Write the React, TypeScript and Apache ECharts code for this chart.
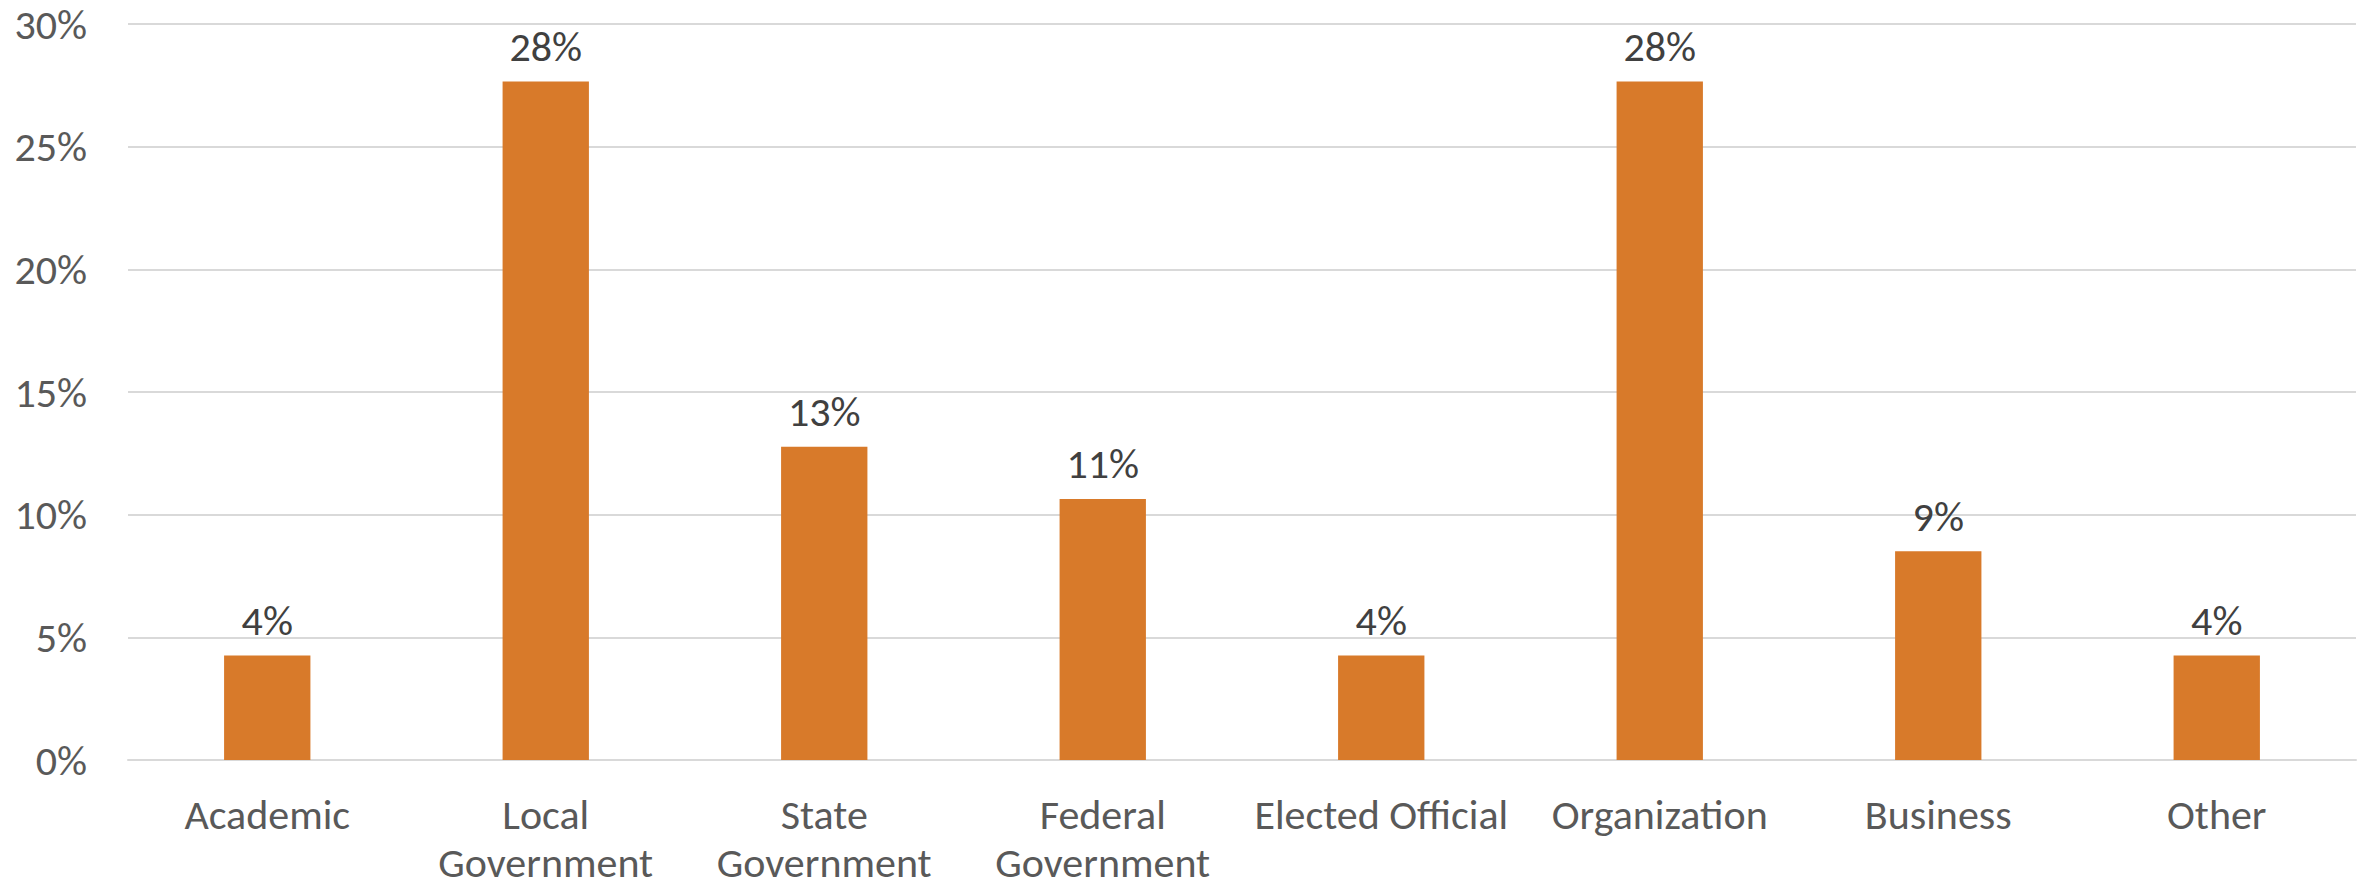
import React, { useEffect, useRef } from "react";
import * as echarts from "echarts";

const categories = [
  "Academic",
  "Local\nGovernment",
  "State\nGovernment",
  "Federal\nGovernment",
  "Elected Official",
  "Organization",
  "Business",
  "Other",
];
const shares = [4.26, 27.66, 12.77, 10.64, 4.26, 27.66, 8.51, 4.26];
const yTicks = { min: 0, max: 30, interval: 5 };

const FONT = "Carlito, Calibri, Roboto, 'Liberation Sans', sans-serif";

export default function App() {
  const ref = useRef<HTMLDivElement>(null);
  useEffect(() => {
    if (!ref.current) return;
    const chart = echarts.init(ref.current, undefined, { renderer: "svg" });
    chart.setOption({
      animation: false,
      backgroundColor: "#ffffff",
      textStyle: { fontFamily: FONT },
      grid: { left: 128, right: 8, top: 24, bottom: 127, containLabel: false },
      xAxis: {
        type: "category",
        data: categories,
        axisLine: { show: true, lineStyle: { color: "#d9d9d9", width: 2 } },
        axisTick: { show: false },
        axisLabel: {
          color: "#595959",
          fontSize: 42,
          fontFamily: FONT,
          lineHeight: 48,
          margin: 30,
          interval: 0,
        },
      },
      yAxis: {
        type: "value",
        min: yTicks.min,
        max: yTicks.max,
        interval: yTicks.interval,
        axisLine: { show: false },
        axisTick: { show: false },
        splitLine: { lineStyle: { color: "#d9d9d9", width: 2 } },
        axisLabel: {
          color: "#595959",
          fontSize: 42,
          fontFamily: FONT,
          margin: 41,
          formatter: "{value}%",
        },
      },
      series: [
        {
          type: "bar",
          data: shares,
          barWidth: "31%",
          itemStyle: { color: "#D87A2A" },
          label: {
            show: true,
            position: "top",
            distance: 14,
            color: "#404040",
            fontSize: 42,
            fontFamily: FONT,
            formatter: (p: any) => Math.round(p.value) + "%",
          },
        },
      ],
    });
    return () => chart.dispose();
  }, []);
  return (
    <div
      ref={ref}
      style={{ position: "absolute", left: 0, top: 0, width: 2364, height: 887 }}
    />
  );
}
